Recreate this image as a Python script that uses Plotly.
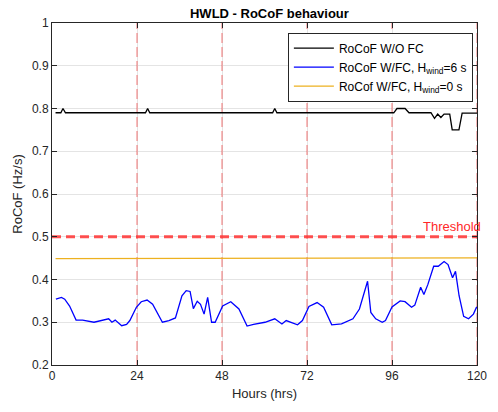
import plotly.graph_objects as go

# ---- data ----
black_hours = [1, 2.5, 3.1, 3.8, 26.4, 27.0, 27.6, 62.3, 62.9, 63.5, 96.5, 97.4, 99.7, 100.8,
               107.0, 108.0, 108.9, 109.8, 110.7, 111.8, 112.3, 113.0, 114.9, 115.8, 120]
black_vals = [0.79, 0.79, 0.80, 0.79, 0.79, 0.80, 0.79, 0.79, 0.80, 0.79, 0.79, 0.80, 0.80, 0.79,
              0.79, 0.777, 0.787, 0.779, 0.787, 0.787, 0.787, 0.75, 0.75, 0.789, 0.789]

blue_hours = [1.1, 2.67, 3.59, 4.97, 6.8, 8.64, 11.86, 14.16, 16.0, 16.92, 17.84, 19.68, 21.06,
              21.98, 23.82, 25.2, 26.85, 28.41, 31.17, 33.01, 34.85, 36.69, 37.89, 38.99, 39.91,
              41.01, 41.93, 42.94, 43.95, 45.06, 46.07, 48.18, 50.48, 52.78, 55.08, 56.92, 60.14,
              62.9, 64.92, 66.12, 69.33, 70.71, 72.55, 74.85, 76.69, 78.99, 81.75, 84.97, 86.8,
              89.1, 90.02, 91.4, 93.24, 94.16, 96.0, 98.3, 99.68, 101.52, 102.44, 104.09, 105.01,
              106.11, 107.77, 109.06, 110.71, 111.82, 113.1, 113.93, 114.94, 116.23, 117.61,
              118.99, 119.91]
blue_vals = [0.354, 0.358, 0.354, 0.338, 0.305, 0.305, 0.30, 0.305, 0.308, 0.30, 0.305, 0.292,
             0.295, 0.304, 0.335, 0.348, 0.352, 0.342, 0.30, 0.304, 0.31, 0.362, 0.374, 0.372,
             0.332, 0.349, 0.342, 0.319, 0.358, 0.30, 0.30, 0.338, 0.348, 0.331, 0.291, 0.295,
             0.30, 0.308, 0.296, 0.304, 0.294, 0.304, 0.337, 0.346, 0.335, 0.294, 0.296, 0.308,
             0.331, 0.396, 0.323, 0.308, 0.30, 0.304, 0.336, 0.35, 0.348, 0.335, 0.34, 0.382,
             0.365, 0.388, 0.431, 0.431, 0.442, 0.435, 0.404, 0.419, 0.362, 0.314, 0.308, 0.319,
             0.336]

yellow_hours = [1, 111.5, 114.6, 120]
yellow_vals = [0.449, 0.449, 0.4505, 0.4505]

threshold = 0.5
day_marks = [24, 48, 72, 96, 120]
x_ticks = [0, 24, 48, 72, 96, 120]
y_ticks = [0.2, 0.3, 0.4, 0.5, 0.6, 0.7, 0.8, 0.9, 1]
y_tick_labels = ["0.2", "0.3", "0.4", "0.5", "0.6", "0.7", "0.8", "0.9", "1"]

FONT = "Liberation Sans, Arial, sans-serif"
fig = go.Figure()

# day separators
for d in day_marks:
    fig.add_trace(go.Scatter(x=[d, d], y=[0.2, 1], mode="lines", showlegend=False,
                             hoverinfo="skip",
                             line=dict(color="rgba(238,60,60,0.7)", width=1, dash="10px,4px")))

# threshold
fig.add_trace(go.Scatter(x=[0, 120], y=[threshold, threshold], mode="lines", showlegend=False,
                         line=dict(color="rgba(255,50,50,0.85)", width=3, dash="9px,5px")))

fig.add_trace(go.Scatter(x=black_hours, y=black_vals, mode="lines", name="RoCoF W/O FC",
                         line=dict(color="black", width=1.3)))
fig.add_trace(go.Scatter(x=blue_hours, y=blue_vals, mode="lines",
                         name="RoCoF W/FC, H<sub>wind</sub>=6 s",
                         line=dict(color="rgb(0,0,255)", width=1.3)))
fig.add_trace(go.Scatter(x=yellow_hours, y=yellow_vals, mode="lines",
                         name="RoCof W/FC, H<sub>wind</sub>=0 s",
                         line=dict(color="rgb(237,177,32)", width=1.2)))

fig.add_annotation(x=120, y=threshold, xref="x", yref="y", text="Threshold",
                   showarrow=False, xanchor="right", yanchor="bottom", yshift=1, xshift=6,
                   font=dict(family=FONT, size=13, color="rgb(255,40,40)"))

fig.update_layout(
    width=498, height=412,
    margin=dict(l=52, r=11, t=23, b=47),
    paper_bgcolor="white", plot_bgcolor="white",
    font=dict(family=FONT, size=12, color="rgb(38,38,38)"),
    title=dict(text="<b>HWLD - RoCoF behaviour</b>", x=0.541, xanchor="center",
               y=0.968, yanchor="middle", font=dict(family=FONT, size=13, color="black")),
    legend=dict(x=0.555, y=0.972, xanchor="left", yanchor="top",
                bgcolor="white", bordercolor="rgb(38,38,38)", borderwidth=1,
                font=dict(family=FONT, size=12, color="black"),
                tracegroupgap=0, itemwidth=40),
    showlegend=True,
)
fig.update_xaxes(range=[0, 120], tickvals=x_ticks, ticktext=[str(t) for t in x_ticks],
                 showline=True, linecolor="rgb(38,38,38)", linewidth=1, mirror="ticks",
                 ticks="inside", ticklen=5, tickcolor="rgb(38,38,38)",
                 showgrid=True, gridcolor="rgb(228,228,228)", zeroline=False,
                 title=dict(text="Hours (hrs)", font=dict(size=13), standoff=6),
                 tickfont=dict(size=12))
fig.update_yaxes(range=[0.2, 1], tickvals=y_ticks, ticktext=y_tick_labels,
                 showline=True, linecolor="rgb(38,38,38)", linewidth=1, mirror="ticks",
                 ticks="inside", ticklen=5, tickcolor="rgb(38,38,38)",
                 showgrid=True, gridcolor="rgb(228,228,228)", zeroline=False,
                 title=dict(text="RoCoF (Hz/s)", font=dict(size=13), standoff=6),
                 tickfont=dict(size=12))

fig.write_html("out.html")
